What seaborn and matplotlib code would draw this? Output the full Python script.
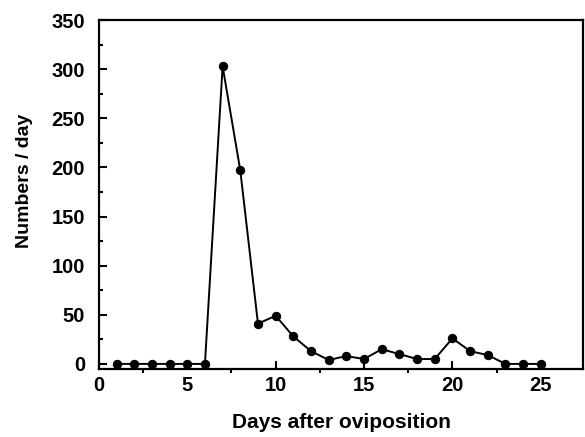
import matplotlib
matplotlib.use("Agg")
import matplotlib.pyplot as plt
from matplotlib.ticker import MultipleLocator
import seaborn as sns
import pandas as pd

# Daily emergence counts after oviposition
days = list(range(1, 26))
numbers = [0, 0, 0, 0, 0, 0, 303, 197, 41, 49, 28, 13, 4, 8, 5,
           15, 10, 5, 5, 26, 13, 9, 0, 0, 0]
x_ticks = [0, 5, 10, 15, 20, 25]
y_ticks = [0, 50, 100, 150, 200, 250, 300, 350]

df = pd.DataFrame({"day": days, "numbers": numbers})

sns.set_style("ticks")
plt.rcParams["font.family"] = ["Liberation Sans", "DejaVu Sans"]
plt.rcParams["font.weight"] = "bold"
plt.rcParams["text.color"] = "black"
plt.rcParams["axes.labelcolor"] = "black"
plt.rcParams["xtick.color"] = "black"
plt.rcParams["ytick.color"] = "black"

fig = plt.figure(figsize=(5.85, 4.37), dpi=100)
ax = fig.add_axes([0.169, 0.156, 0.828, 0.798])

sns.lineplot(data=df, x="day", y="numbers", ax=ax, color="black",
             linewidth=1.4, marker="o", markersize=6,
             markeredgecolor="black", markerfacecolor="black")

ax.set_xlim(0, 27.4)
ax.set_ylim(-5, 350)
ax.set_xticks(x_ticks)
ax.set_yticks(y_ticks)
ax.xaxis.set_minor_locator(MultipleLocator(2.5))
ax.yaxis.set_minor_locator(MultipleLocator(25))

ax.tick_params(axis="x", which="major", direction="in", length=6, width=1.5,
               labelsize=14.5, pad=5, top=False, colors="black")
ax.tick_params(axis="x", which="minor", direction="out", length=3, width=1.5,
               top=False, colors="black")
ax.tick_params(axis="y", which="major", direction="in", length=6, width=1.5,
               labelsize=14.5, pad=10, right=False, colors="black")
ax.tick_params(axis="y", which="minor", direction="in", length=3, width=1.5,
               right=False, colors="black")
for lbl in ax.get_xticklabels() + ax.get_yticklabels():
    lbl.set_fontweight("bold")

for side in ["left", "right", "top", "bottom"]:
    ax.spines[side].set_visible(True)
    ax.spines[side].set_linewidth(1.6)
    ax.spines[side].set_color("black")

ax.set_xlabel("Days after oviposition", fontsize=15, fontweight="bold",
              labelpad=13, color="black")
ax.set_ylabel("Numbers / day", fontsize=14, fontweight="bold", color="black")
ax.yaxis.set_label_coords(-0.136, 0.54)

fig.savefig("out.png", dpi=100)
